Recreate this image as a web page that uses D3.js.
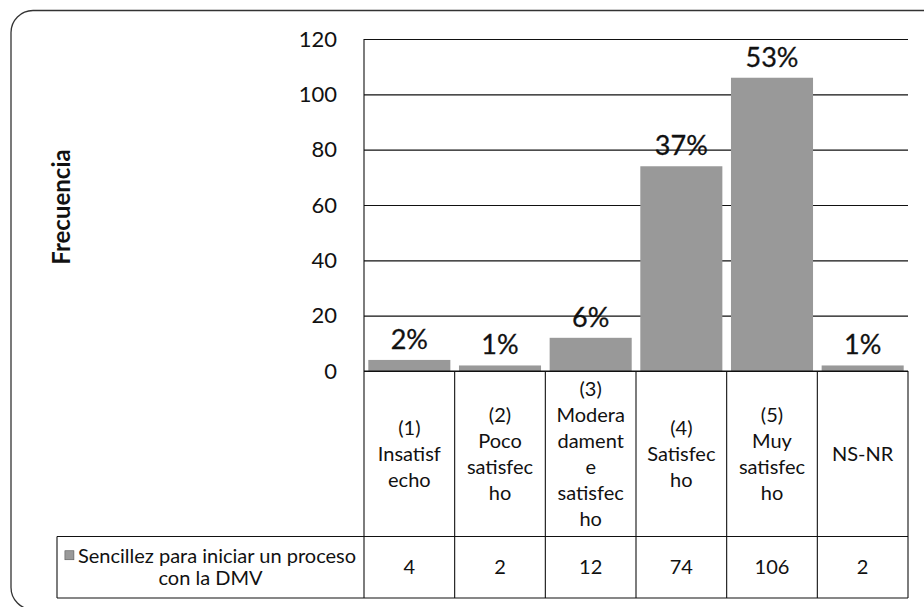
<!DOCTYPE html>
<html>
<head>
<meta charset="utf-8">
<script src="https://cdn.jsdelivr.net/npm/d3@7"></script>
<style>
  html, body { margin: 0; padding: 0; background: #fff; }
  svg { display: block; font-family: Lato, "Open Sans", sans-serif; }
</style>
</head>
<body>
<svg id="chart" width="924" height="607"></svg>
<script>
// Survey results: ease of starting a process with the DMV
const categoryKeys = ["c1", "c2", "c3", "c4", "c5", "ns"];
const categoryLines = [
  ["(1)", "Insatisf", "echo"],
  ["(2)", "Poco", "satisfec", "ho"],
  ["(3)", "Modera", "dament", "e", "satisfec", "ho"],
  ["(4)", "Satisfec", "ho"],
  ["(5)", "Muy", "satisfec", "ho"],
  ["NS-NR"]
];
const frequencies = [4, 2, 12, 74, 106, 2];
const percentLabels = ["2%", "1%", "6%", "37%", "53%", "1%"];
const yTicks = [0, 20, 40, 60, 80, 100, 120];
const seriesNameLines = ["Sencillez para iniciar un proceso", "con la DMV"];
const yTitle = "Frecuencia";

const svg = d3.select("#chart");
const ink = "#111";

// plot frame
const plotLeft = 364, plotRight = 908, plotTop = 39, plotBottom = 371;
const headerBottom = 536.5, tableBottom = 598, tableLeft = 57;

// rounded outer border (runs past the right and bottom edges)
svg.append("rect")
  .attr("x", 11).attr("y", 10.5)
  .attr("width", 960).attr("height", 599)
  .attr("rx", 22).attr("ry", 22)
  .attr("fill", "#fff")
  .attr("stroke", "#333").attr("stroke-width", 1.3);

const x = d3.scaleBand()
  .domain(categoryKeys)
  .range([plotLeft, plotRight])
  .paddingInner(0.095)
  .paddingOuter(0.0475);

const y = d3.scaleLinear().domain([0, 120]).range([plotBottom, plotTop]);

// gridlines
svg.append("g")
  .attr("transform", `translate(${plotLeft},0)`)
  .call(d3.axisLeft(y).tickValues(yTicks).tickSize(-(plotRight - plotLeft)).tickFormat(""))
  .call(g => g.select(".domain").remove())
  .call(g => g.selectAll(".tick line").attr("stroke", ink).attr("stroke-width", 1.1));

// tick labels
svg.append("g")
  .attr("transform", `translate(${plotLeft},0)`)
  .call(d3.axisLeft(y).tickValues(yTicks).tickSize(0).tickPadding(27))
  .call(g => g.select(".domain").remove())
  .call(g => g.selectAll(".tick text")
    .attr("font-family", "Lato, sans-serif")
    .attr("font-size", 22)
    .attr("fill", "#111"));

// bars
svg.append("g").selectAll("rect")
  .data(frequencies)
  .join("rect")
  .attr("x", (d, i) => x(categoryKeys[i]))
  .attr("y", d => y(d))
  .attr("width", x.bandwidth())
  .attr("height", d => y(0) - y(d))
  .attr("fill", "#999");

// percentage labels
svg.append("g").selectAll("text")
  .data(frequencies)
  .join("text")
  .attr("x", (d, i) => x(categoryKeys[i]) + x.bandwidth() / 2)
  .attr("y", d => y(d) - 11)
  .attr("text-anchor", "middle")
  .attr("font-size", 27)
  .attr("fill", "#111")
  .attr("stroke", "#111").attr("stroke-width", 0.3)
  .text((d, i) => percentLabels[i]);

// y axis title
svg.append("text")
  .attr("transform", "translate(70,207) rotate(-90)")
  .attr("text-anchor", "middle")
  .attr("font-size", 24)
  .attr("font-weight", "bold")
  .attr("fill", "#111")
  .text(yTitle);

// data table
const step = x.step();
const colLeft = i => x(categoryKeys[i]) - step * x.paddingInner() / 2;
const lines = svg.append("g").attr("stroke", ink).attr("stroke-width", 1.1);

// axis line continuing down the table
lines.append("line").attr("x1", plotLeft).attr("x2", plotLeft).attr("y1", plotTop).attr("y2", tableBottom);
categoryKeys.forEach((k, i) => {
  const xr = colLeft(i) + step;
  lines.append("line").attr("x1", xr).attr("x2", xr).attr("y1", plotBottom).attr("y2", tableBottom);
});
lines.append("line").attr("x1", tableLeft).attr("x2", plotRight).attr("y1", headerBottom).attr("y2", headerBottom);
lines.append("line").attr("x1", tableLeft).attr("x2", plotRight).attr("y1", tableBottom).attr("y2", tableBottom);
lines.append("line").attr("x1", tableLeft).attr("x2", tableLeft).attr("y1", headerBottom).attr("y2", tableBottom);
lines.append("line").attr("x1", plotLeft).attr("x2", plotRight).attr("y1", plotBottom).attr("y2", plotBottom);

// category headers
const lineGap = 26;
const headerMid = (plotBottom + headerBottom) / 2;
categoryLines.forEach((ls, i) => {
  const cx = x(categoryKeys[i]) + x.bandwidth() / 2;
  const t = svg.append("text")
    .attr("text-anchor", "middle")
    .attr("font-size", 20)
    .attr("fill", "#111");
  ls.forEach((s, j) => {
    t.append("tspan")
      .attr("x", cx)
      .attr("y", headerMid + (j - (ls.length - 1) / 2) * lineGap + 7)
      .text(s);
  });
});

// frequency values
const rowMid = (headerBottom + tableBottom) / 2;
svg.append("g").selectAll("text")
  .data(frequencies)
  .join("text")
  .attr("x", (d, i) => x(categoryKeys[i]) + x.bandwidth() / 2)
  .attr("y", rowMid + 7)
  .attr("text-anchor", "middle")
  .attr("font-size", 20)
  .attr("fill", "#111")
  .text(d => d);

// series legend cell
const legendMid = (tableLeft + plotLeft) / 2;
const l1 = svg.append("text")
  .attr("font-size", 20).attr("fill", "#111")
  .attr("y", rowMid - 11 + 7)
  .text(seriesNameLines[0]);
const w1 = l1.node().getComputedTextLength();
const keySize = 9, keyGap = 4;
const groupW = keySize + keyGap + w1;
const gx = legendMid - groupW / 2;
l1.attr("x", gx + keySize + keyGap);
svg.append("rect")
  .attr("x", gx).attr("y", rowMid - 11 - keySize / 2 - 1)
  .attr("width", keySize).attr("height", keySize)
  .attr("fill", "#999").attr("stroke", "#555").attr("stroke-width", 0.6);
svg.append("text")
  .attr("font-size", 20).attr("fill", "#111")
  .attr("x", legendMid).attr("y", rowMid + 11 + 7)
  .attr("text-anchor", "middle")
  .text(seriesNameLines[1]);
</script>
</body>
</html>
